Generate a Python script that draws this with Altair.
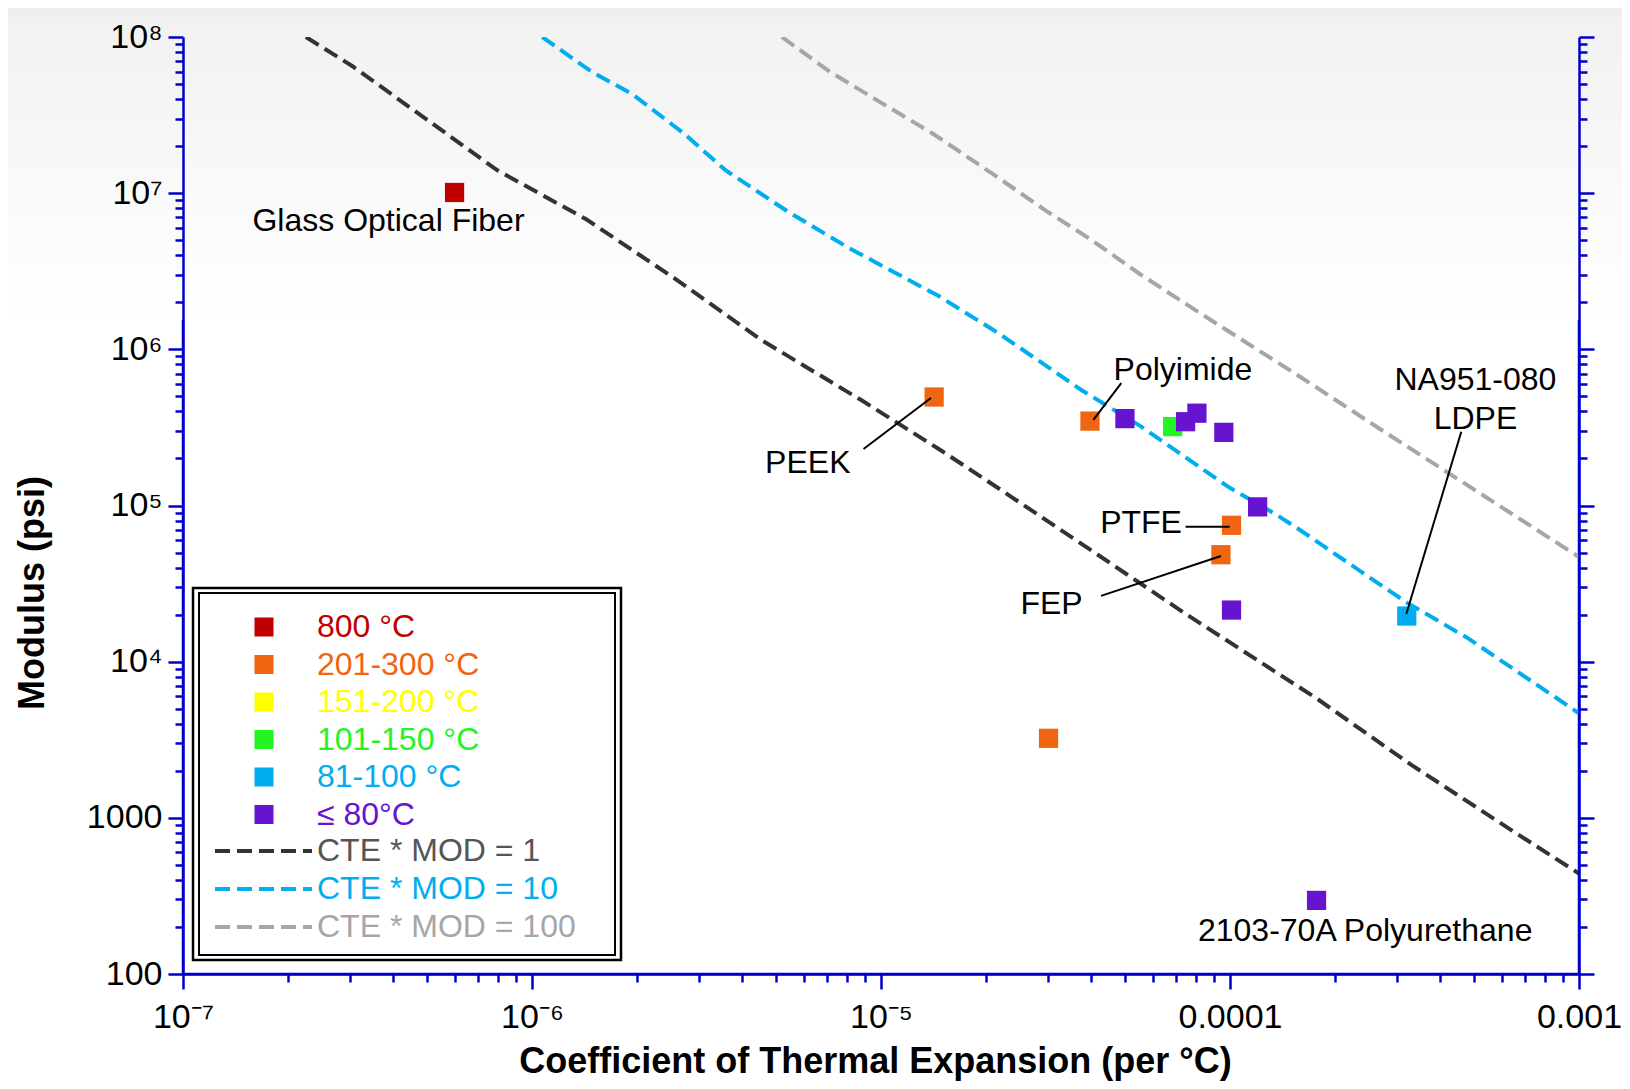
import json
import altair as alt
import pandas as pd

FONT = "Liberation Sans"
AX_BLUE = "#0000cc"

# ---------------- material data points ----------------
pt_cte = [6.0e-7, 1.42e-5, 3.97e-5, 5.0e-5, 6.85e-5, 7.46e-5, 8.04e-5, 9.6e-5,
          1.2e-4, 1.01e-4, 9.42e-5, 1.01e-4, 3.21e-4, 3.02e-5, 1.77e-4]
pt_mod = [1.01e7, 4.95e5, 3.47e5, 3.6e5, 3.2e5, 3.44e5, 3.9e5, 2.94e5,
          9.8e4, 7.47e4, 4.84e4, 2.14e4, 1.96e4, 3.23e3, 296]
pt_cls = ["800 °C", "201-300 °C", "201-300 °C", "≤ 80°C", "101-150 °C", "≤ 80°C",
          "≤ 80°C", "≤ 80°C", "≤ 80°C", "201-300 °C", "201-300 °C", "≤ 80°C",
          "81-100 °C", "201-300 °C", "≤ 80°C"]

temp_classes = ["800 °C", "201-300 °C", "151-200 °C", "101-150 °C", "81-100 °C", "≤ 80°C"]
temp_colors = ["#c00000", "#f0650f", "#ffff00", "#22f522", "#00aeef", "#6614d0"]

# ---------------- CTE * MOD reference lines ----------------
line_names = ["CTE * MOD = 1", "CTE * MOD = 10", "CTE * MOD = 100"]
line_colors = ["#333333", "#00aeef", "#a6a6a6"]
line_label_colors = ["#555555", "#00aeef", "#a6a6a6"]

l1_x = [2.25e-7, 3.06e-7, 7.96e-7, 1.43e-6, 2.55e-6, 4.56e-6, 8.75e-6, 1.46e-5,
        2.17e-5, 4.19e-5, 7.42e-5, 1.78e-4, 3.30e-4, 6.55e-4, 1.0e-3]
l1_y = [1e8, 6.5e7, 1.4e7, 6.8e6, 2.87e6, 1.14e6, 4.75e5, 2.31e5,
        1.29e5, 4.82e4, 2.04e4, 5.77e3, 2.19e3, 807, 440]
l10_x = [1.07e-6, 1.48e-6, 1.94e-6, 2.73e-6, 3.59e-6, 5.42e-6, 8.17e-6, 1.46e-5,
         2.17e-5, 3.75e-5, 5.57e-5, 7.42e-5, 9.86e-5, 1.34e-4, 1.56e-4, 2.7e-4,
         3.22e-4, 4.79e-4, 1.0e-3]
l10_y = [1e8, 6.0e7, 4.3e7, 2.4e7, 1.4e7, 7.6e6, 4.4e6, 2.2e6,
         1.27e6, 5.49e5, 3.2e5, 2.05e5, 1.32e5, 8.9e4, 7.15e4, 3.1e4,
         2.38e4, 1.42e4, 4.67e3]
l100_x = [5.2e-6, 7.13e-6, 1.0e-5, 1.41e-5, 2.13e-5, 3.0e-5, 3.94e-5, 5.56e-5,
          8.81e-5, 1.56e-4, 2.77e-4, 4.69e-4, 1.0e-3]
l100_y = [1e8, 6.0e7, 3.8e7, 2.4e7, 1.29e7, 7.6e6, 5.15e6, 3.0e6,
          1.54e6, 6.85e5, 2.96e5, 1.39e5, 4.68e4]

# ---------------- annotations ----------------
ann_text = ["Glass Optical Fiber", "PEEK", "Polyimide", "PTFE", "FEP",
            "NA951-080", "LDPE", "2103-70A Polyurethane"]
ann_x = [3.88e-7, 6.17e-6, 7.33e-5, 5.56e-5, 3.08e-5, 5.05e-4, 5.05e-4, 2.44e-4]
ann_y = [6.59e6, 1.87e5, 7.41e5, 7.73e4, 2.34e4, 6.36e5, 3.56e5, 188]

lead_x1 = [8.91e-6, 4.06e-5, 7.46e-5, 4.27e-5, 4.6e-4]
lead_y1 = [2.3e5, 3.53e5, 7.31e4, 2.64e4, 2.97e5]
lead_x2 = [1.39e-5, 4.88e-5, 9.98e-5, 9.42e-5, 3.2e-4]
lead_y2 = [4.88e5, 6.08e5, 7.31e4, 4.75e4, 2.02e4]

# ---------------- axis ticks ----------------
x_major = [1e-7, 1e-6, 1e-5, 1e-4, 1e-3]
x_major_labels = ["10⁻⁷", "10⁻⁶", "10⁻⁵", "0.0001", "0.001"]
y_major = [1e2, 1e3, 1e4, 1e5, 1e6, 1e7, 1e8]
y_major_labels = ["100", "1000", "10⁴", "10⁵", "10⁶", "10⁷", "10⁸"]
minor_mult = [2, 3, 4, 5, 6, 7, 8, 9]


def with_minors(majors):
    vals = []
    for i, m in enumerate(majors):
        vals.append(m)
        if i < len(majors) - 1:
            vals.extend(m * k for k in minor_mult)
    return vals


x_ticks = with_minors(x_major)
y_ticks = with_minors(y_major)

LOG = "(log(datum.value)/LN10)"
IS_MAJOR = f"abs({LOG} - round({LOG})) < 0.001"
x_off = 7   # -log10(1e-7)
y_off = -2  # -log10(100)
x_label_expr = f"{IS_MAJOR} ? {json.dumps(x_major_labels, ensure_ascii=False)}[round({LOG}) + ({x_off})] : ''"
y_label_expr = f"{IS_MAJOR} ? {json.dumps(y_major_labels, ensure_ascii=False)}[round({LOG}) + ({y_off})] : ''"
tick_expr = f"{IS_MAJOR} ? 15 : 8"

# ---------------- tables ----------------
pt_df = pd.DataFrame({"cte": pt_cte, "mod": pt_mod, "cls": pt_cls})
line_df = pd.concat([
    pd.DataFrame({"cte": l1_x, "mod": l1_y, "series": line_names[0]}),
    pd.DataFrame({"cte": l10_x, "mod": l10_y, "series": line_names[1]}),
    pd.DataFrame({"cte": l100_x, "mod": l100_y, "series": line_names[2]}),
], ignore_index=True)
ann_df = pd.DataFrame({"label": ann_text, "x": ann_x, "y": ann_y})
lead_df = pd.DataFrame({"x": lead_x1, "y": lead_y1, "x2": lead_x2, "y2": lead_y2})
one_row = alt.Data(values=[{"k": 1}])

xscale = alt.Scale(type="log", domain=[x_major[0], x_major[-1]], nice=False)
yscale = alt.Scale(type="log", domain=[y_major[0], y_major[-1]], nice=False)

common_axis = dict(domainColor=AX_BLUE, domainWidth=2.5, tickColor=AX_BLUE, tickWidth=2.5,
                   grid=False, zindex=1, labelFlush=False, labelOverlap=False,
                   labelFont=FONT, labelFontSize=34, labelColor="black",
                   titleFont=FONT, titleFontSize=36, titleFontWeight="bold", titleColor="black",
                   tickSize=alt.ExprRef(tick_expr))

x_axis = alt.Axis(orient="bottom", values=x_ticks, labelExpr=x_label_expr, labelPadding=11,
                  labelAngle=0, title="Coefficient of Thermal Expansion (per °C)",
                  titleX=692, titleY=98, titleAlign="center", titleBaseline="alphabetic",
                  **common_axis)
y_axis_left = alt.Axis(orient="left", values=y_ticks, labelExpr=y_label_expr, labelPadding=6,
                       title="Modulus (psi)", titleX=-140, titleY=555.5, titleAngle=270,
                       titleAlign="center", titleBaseline="alphabetic", **common_axis)
y_axis_right = alt.Axis(orient="right", values=y_ticks, labels=False, title=None, **common_axis)

expr_a = (f"{json.dumps(temp_colors)}[indexof({json.dumps(temp_classes, ensure_ascii=False)}, datum.value)]")
expr_b = (f"{json.dumps(line_label_colors)}[indexof({json.dumps(line_names, ensure_ascii=False)}, datum.value)]")

legend_common = dict(orient="none", title=None, labelFont=FONT, labelFontSize=32,
                     labelLimit=600, padding=0, clipHeight=32)
leg_a = alt.Legend(legendX=65, legendY=574, symbolType="square", symbolSize=361,
                   symbolStrokeWidth=0, symbolOpacity=1, labelOffset=37, rowPadding=5.5,
                   labelColor=alt.ExprRef(expr_a), **legend_common)
leg_b = alt.Legend(legendX=30, legendY=798, symbolType="stroke", symbolSize=9409,
                   symbolStrokeWidth=4, symbolDash=[15, 7], labelOffset=3, rowPadding=6,
                   labelColor=alt.ExprRef(expr_b), **legend_common)

# ---------------- decorations ----------------
band = alt.Chart(one_row).mark_rect(color="#eeeeee").encode(
    x=alt.value(-175), x2=alt.value(1439), y=alt.value(-29), y2=alt.value(-22))
grad = alt.Chart(one_row).mark_rect(
    color=alt.Gradient(gradient="linear",
                       stops=[alt.GradientStop(color="#f1f1f1", offset=0),
                              alt.GradientStop(color="#ffffff", offset=1)],
                       x1=0, x2=0, y1=0, y2=1)
).encode(x=alt.value(-175), x2=alt.value(1439), y=alt.value(-22), y2=alt.value(283))
box_outer = alt.Chart(one_row).mark_rect(fill="white", stroke="black", strokeWidth=2.5).encode(
    x=alt.value(10), x2=alt.value(438), y=alt.value(551), y2=alt.value(923))
box_inner = alt.Chart(one_row).mark_rect(fillOpacity=0, stroke="black", strokeWidth=2).encode(
    x=alt.value(16), x2=alt.value(432), y=alt.value(556), y2=alt.value(918))

# ---------------- data layers ----------------
lines = alt.Chart(line_df).mark_line(strokeDash=[15, 7], strokeWidth=4, clip=True).encode(
    x=alt.X("cte:Q", scale=xscale, axis=None),
    y=alt.Y("mod:Q", scale=yscale, axis=y_axis_right),
    stroke=alt.Stroke("series:N", scale=alt.Scale(domain=line_names, range=line_colors), legend=leg_b),
)
points = alt.Chart(pt_df).mark_square(size=370, opacity=1).encode(
    x=alt.X("cte:Q", scale=xscale, axis=x_axis),
    y=alt.Y("mod:Q", scale=yscale, axis=y_axis_left),
    fill=alt.Fill("cls:N", scale=alt.Scale(domain=temp_classes, range=temp_colors), legend=leg_a),
)
leaders = alt.Chart(lead_df).mark_rule(color="black", strokeWidth=2).encode(
    x=alt.X("x:Q", scale=xscale, axis=None),
    y=alt.Y("y:Q", scale=yscale, axis=None),
    x2="x2:Q", y2="y2:Q",
)
texts = alt.Chart(ann_df).mark_text(font=FONT, fontSize=32, color="black",
                                    align="center", baseline="middle").encode(
    x=alt.X("x:Q", scale=xscale, axis=None),
    y=alt.Y("y:Q", scale=yscale, axis=None),
    text="label:N",
)

chart = alt.layer(band, grad, box_outer, box_inner, lines, points, leaders, texts).resolve_axis(
    x="independent", y="independent"
).properties(
    width=1396, height=937,
    autosize=alt.AutoSizeParams(type="none"),
    padding={"left": 175, "top": 29, "right": 43, "bottom": 107},
    background="white",
).configure_view(stroke=AX_BLUE, strokeWidth=2.5)

chart.save("out.html", embed_options={"renderer": "svg", "actions": False})
